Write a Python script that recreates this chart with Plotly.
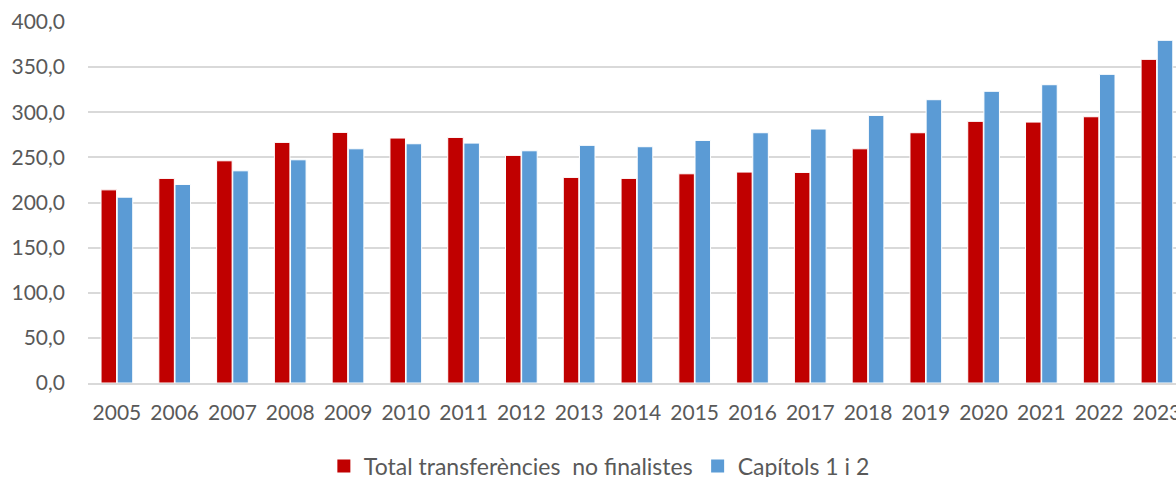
import plotly.graph_objects as go

years = [str(y) for y in range(2005, 2024)]
total_transf = [214.0, 226.7, 246.2, 266.6, 277.7, 271.4, 272.1, 252.2, 227.8, 226.7,
                231.8, 233.7, 233.3, 259.5, 277.3, 289.9, 289.1, 295.0, 358.6]
capitols = [205.9, 220.0, 235.1, 247.3, 259.5, 265.1, 265.8, 257.3, 263.3, 261.8,
            268.8, 277.3, 281.4, 296.5, 313.9, 323.2, 330.5, 342.0, 379.7]
y_ticks = [0, 50, 100, 150, 200, 250, 300, 350, 400]
names = ["Total transferències  no finalistes", "Capítols 1 i 2"]
colors = ["#C00000", "#5B9BD5"]

FONT = "Lato"
TXT = "#595959"

fig = go.Figure()
for vals, nm, col in zip([total_transf, capitols], names, colors):
    fig.add_trace(go.Bar(x=years, y=vals, name=nm, showlegend=False,
                         marker=dict(color=col, line=dict(color="white", width=1))))
# legend entries with larger square symbols
for nm, col in zip(names, colors):
    fig.add_trace(go.Scatter(x=[None], y=[None], mode="markers", name=nm,
                             marker=dict(symbol="square", size=13, color=col)))

fig.update_layout(
    width=1176, height=477,
    margin=dict(l=88, r=0, t=22, b=94, autoexpand=False),
    paper_bgcolor="white", plot_bgcolor="white",
    barmode="group", bargap=0.44, bargroupgap=0.04,
    separators=",.",
    font=dict(family=FONT, size=21, color=TXT),
    legend=dict(orientation="h", x=0.47, xanchor="center", y=-0.23, yanchor="middle",
                font=dict(family=FONT, size=23, color=TXT), itemwidth=30,
                traceorder="normal"),
    showlegend=True,
)
fig.update_xaxes(type="category", range=[-0.5, 18.33], showgrid=False, automargin=False,
                 showline=True, linecolor="#d9d9d9", linewidth=1.5,
                 ticks="", ticklabelstandoff=10,
                 tickfont=dict(family=FONT, size=21, color=TXT))
fig.update_yaxes(range=[0, 400], tickvals=y_ticks, tickformat=".1f", automargin=False,
                 showgrid=True, gridcolor="#d9d9d9", gridwidth=1.5,
                 zeroline=False, showline=False, ticks="",
                 ticklabelstandoff=22,
                 tickfont=dict(family=FONT, size=21, color=TXT))

fig.write_html("out.html", config={"displayModeBar": False},
               post_script="document.body.style.margin='0';document.body.style.padding='0';")
